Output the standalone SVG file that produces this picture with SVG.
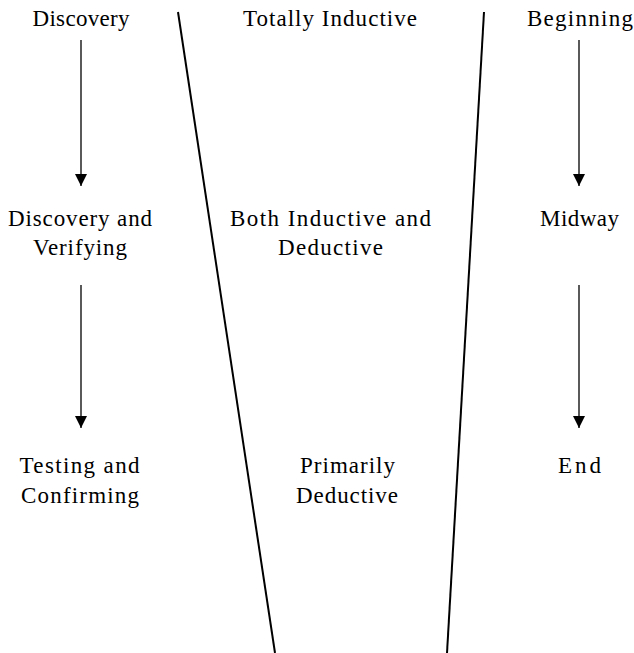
<svg xmlns="http://www.w3.org/2000/svg" width="634" height="653" viewBox="0 0 634 653">
  <style>
    .lbl { font-family: "Liberation Serif", "Times New Roman", serif; font-size: 23px; fill: #000; text-anchor: middle; }
    .arrow { stroke: #000; stroke-width: 1.3; fill: none; marker-end: url(#head); }
    .div { stroke: #000; stroke-width: 2; fill: none; }
  </style>
  <defs>
    <marker id="head" viewBox="0 0 12 12" refX="12" refY="6" markerWidth="12" markerHeight="12" markerUnits="userSpaceOnUse" orient="auto">
      <path d="M0,0 L12,6 L0,12 Z" fill="#000"/>
    </marker>
  </defs>
  <rect width="634" height="653" fill="#fff"/>

  <g id="dividers">
    <line class="div" x1="178" y1="12" x2="275" y2="653"/>
    <line class="div" x1="484" y1="12" x2="447" y2="653"/>
  </g>

  <g id="connectors">
    <line class="arrow" x1="81" y1="40" x2="81" y2="186"/>
    <line class="arrow" x1="81" y1="285" x2="81" y2="428"/>
    <line class="arrow" x1="579" y1="40" x2="579" y2="186"/>
    <line class="arrow" x1="579" y1="285" x2="579" y2="428"/>
  </g>

  <g id="discovery"><text class="lbl" x="81" y="26" textLength="97" lengthAdjust="spacing">Discovery</text></g>
  <g id="totally-inductive"><text class="lbl" x="330" y="26" textLength="174" lengthAdjust="spacing">Totally Inductive</text></g>
  <g id="beginning"><text class="lbl" x="580" y="26" textLength="106" lengthAdjust="spacing">Beginning</text></g>

  <g id="discovery-verifying">
    <text class="lbl" x="80" y="226" textLength="144" lengthAdjust="spacing">Discovery and</text>
    <text class="lbl" x="80" y="255" textLength="94" lengthAdjust="spacing">Verifying</text>
  </g>
  <g id="both">
    <text class="lbl" x="330.5" y="226" textLength="201" lengthAdjust="spacing">Both Inductive and</text>
    <text class="lbl" x="330.5" y="255" textLength="105" lengthAdjust="spacing">Deductive</text>
  </g>
  <g id="midway"><text class="lbl" x="579.5" y="226" textLength="79" lengthAdjust="spacing">Midway</text></g>

  <g id="testing-confirming">
    <text class="lbl" x="79.5" y="473" textLength="120" lengthAdjust="spacing">Testing and</text>
    <text class="lbl" x="80" y="503" textLength="118" lengthAdjust="spacing">Confirming</text>
  </g>
  <g id="primarily-deductive">
    <text class="lbl" x="347.5" y="473" textLength="95" lengthAdjust="spacing">Primarily</text>
    <text class="lbl" x="347" y="503" textLength="102" lengthAdjust="spacing">Deductive</text>
  </g>
  <g id="end"><text class="lbl" x="579.5" y="473" textLength="43" lengthAdjust="spacing">End</text></g>
</svg>
